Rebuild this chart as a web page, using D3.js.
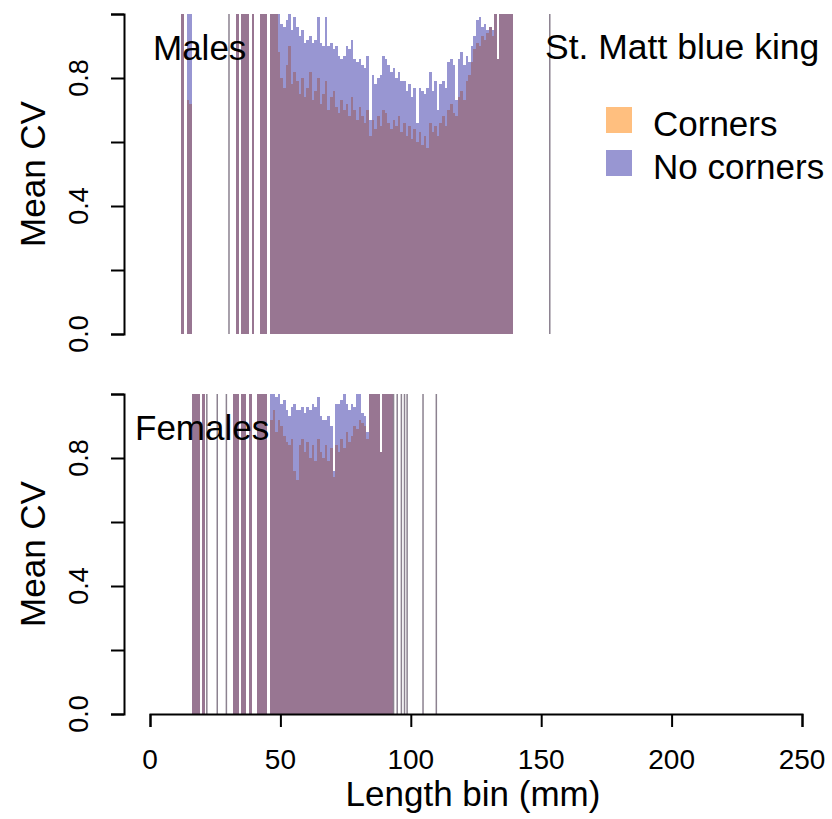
<!DOCTYPE html>
<html>
<head>
<meta charset="utf-8">
<script src="https://cdn.jsdelivr.net/npm/d3@7"></script>
<style>
  body { margin: 0; background: #fff; }
  svg { display: block; font-family: "Liberation Sans", Arial, sans-serif; }
</style>
</head>
<body>
<div id="chart"></div>
<script>
/* CONSTANTS AND GLOBALS */
const width = 832,
  height = 819,
  plotLeft = 150,
  plotRight = 802;

/* DATA */
// length bins (mm) and mean CV per bin; values above 1 are cut off by the y limit
const maleBins = [12, 14, 15, 33, 35, 36, 37, 39, 42, 43, 44,
  46, 47, 48, 49, 50, 51, 52, 53, 54, 55, 56, 57, 58, 59, 60, 61, 62, 63, 64, 65,
  66, 67, 68, 69, 70, 71, 72, 73, 74, 75, 76, 77, 78, 79, 80, 81, 82, 83, 84, 85,
  86, 87, 88, 89, 90, 91, 92, 93, 94, 95, 96, 97, 98, 99, 100, 101, 102, 103, 104, 105,
  106, 107, 108, 109, 110, 111, 112, 113, 114, 115, 116, 117, 118, 119, 120, 121, 122, 123, 124, 125,
  126, 127, 128, 129, 130, 131, 132, 133, 134, 135, 136, 137, 138];
const maleCorners = [1.2, 0.73, 0.72, 1.2, 1.1, 1.3, 1.2, 1.1, 1.2, 1.3, 1.1,
  1.0, 1.05, 1.02, 0.88, 0.80, 0.77, 0.84, 0.90, 0.78, 0.82, 0.79, 0.75, 0.80, 0.74, 0.77, 0.82, 0.73, 0.76, 0.80, 0.72,
  0.75, 0.79, 0.70, 0.74, 0.76, 0.71, 0.69, 0.73, 0.70, 0.72, 0.68, 0.74, 0.70, 0.67, 0.71, 0.68, 0.66, 0.70, 0.62, 0.67,
  0.64, 0.68, 0.65, 0.70, 0.69, 0.66, 0.64, 0.67, 0.65, 0.68, 0.63, 0.66, 0.62, 0.65, 0.61, 0.64, 0.60, 0.63, 0.59, 0.62,
  0.58, 0.66, 0.63, 0.65, 0.62, 0.66, 0.68, 0.65, 0.70, 0.72, 0.69, 0.68, 0.74, 0.76, 0.73, 0.79, 0.81, 0.85, 0.89, 0.91,
  0.90, 0.93, 0.92, 0.94, 0.96, 0.93, 1.05, 0.86, 1.1, 1.2, 1.1, 1.3, 1.2];
const maleNoCorners = [1.3, 1.2, 1.3, 1.3, 1.2, 1.4, 1.3, 1.2, 1.3, 1.4, 1.2,
  1.05, 1.1, 1.02, 1.05, 0.97, 0.96, 0.98, 1.0, 0.95, 0.99, 0.96, 0.93, 0.95, 0.91, 0.92, 0.93, 0.91, 0.92, 0.99, 0.91,
  0.90, 0.99, 0.90, 0.91, 0.89, 0.90, 0.87, 0.86, 0.87, 0.90, 0.89, 0.92, 0.86, 0.85, 0.86, 0.84, 0.83, 0.87, 0.67, 0.81,
  0.78, 0.80, 0.81, 0.87, 0.86, 0.84, 0.82, 0.83, 0.80, 0.82, 0.79, 0.79, 0.76, 0.78, 0.74, 0.77, 0.66, 0.77, 0.76, 0.75,
  0.77, 0.82, 0.76, 0.79, 0.70, 0.78, 0.79, 0.77, 0.85, 0.86, 0.84, 0.73, 0.86, 0.88, 0.84, 0.87, 0.85, 0.90, 0.93, 0.98,
  0.99, 0.96, 0.97, 0.95, 0.96, 0.95, 1.1, 0.86, 1.2, 1.3, 1.2, 1.4, 1.3];
const maleThin = [30, 153];

const femaleBins = [16, 17, 18, 20, 32, 33, 35, 36, 38, 41, 42, 43, 44,
  46, 47, 48, 49, 50, 51, 52, 53, 54, 55, 56, 57, 58, 59, 60, 61, 62, 63, 64, 65,
  66, 67, 68, 69, 70, 71, 72, 73, 74, 75, 76, 77, 78, 79, 80, 81, 82, 83, 84, 85,
  86, 87, 88, 89, 90, 91, 92];
const femaleCorners = [1.2, 1.3, 1.2, 1.1, 1.2, 1.3, 1.2, 1.1, 1.2, 1.3, 1.2, 1.1, 1.2,
  0.92, 0.95, 0.88, 0.92, 0.90, 0.87, 0.85, 0.84, 0.86, 0.76, 0.73, 0.84, 0.86, 0.82, 0.85, 0.80, 0.84, 0.79, 0.86, 0.82,
  0.80, 0.84, 0.79, 0.83, 0.74, 0.84, 0.82, 0.86, 0.83, 0.88, 0.85, 0.87, 0.90, 0.89, 0.92, 0.91, 0.90, 0.86, 1.05, 1.1,
  1.05, 1.2, 0.82, 1.1, 1.3, 1.1, 1.2];
const femaleNoCorners = [1.3, 1.4, 1.3, 1.2, 1.3, 1.4, 1.3, 1.2, 1.3, 1.4, 1.3, 1.2, 1.3,
  1.05, 1.02, 0.99, 1.0, 0.97, 0.98, 0.95, 0.93, 0.96, 0.97, 0.95, 0.95, 0.96, 0.94, 0.96, 0.95, 0.97, 0.96, 0.99, 0.93,
  0.92, 0.92, 0.93, 0.90, 0.76, 0.97, 0.97, 0.98, 1.0, 0.97, 0.95, 0.97, 0.96, 1.02, 1.05, 0.94, 0.93, 0.88, 1.05, 1.1,
  1.1, 1.2, 0.82, 1.1, 1.2, 1.1, 1.2];
const femaleThin = [21.5, 25.5, 29, 93.1, 94.5, 96.1, 97.3, 98.3, 104.4, 109.5];

const xTicks = [0, 50, 100, 150, 200, 250];
const yTicks = [0, 0.2, 0.4, 0.6, 0.8, 1.0];
const yLabels = [0, 0.4, 0.8];
const seriesNames = ["Corners", "No corners"];
const seriesColors = ["rgba(255,128,0,0.5)", "rgba(50,45,165,0.5)"];

const panels = [
  { name: "Males", bins: maleBins, corners: maleCorners, noCorners: maleNoCorners, thin: maleThin,
    top: 14, bottom: 334, labelX: 153 },
  { name: "Females", bins: femaleBins, corners: femaleCorners, noCorners: femaleNoCorners, thin: femaleThin,
    top: 394, bottom: 714, labelX: 135 }
];

/* SCALES */
const xScale = d3.scaleLinear().domain([0, 250]).range([plotLeft, plotRight]);
const binW = xScale(1) - xScale(0);

const svg = d3.select("#chart")
  .append("svg")
  .attr("width", width)
  .attr("height", height);

panels.forEach(p => {
  const yScale = d3.scaleLinear().domain([0, 1]).range([p.bottom, p.top]);
  const clipId = "clip-" + p.name;

  svg.append("clipPath").attr("id", clipId)
    .append("rect")
    .attr("x", 0).attr("y", p.top)
    .attr("width", width).attr("height", p.bottom - p.top);

  const g = svg.append("g").attr("clip-path", `url(#${clipId})`);

  // corners first, no corners drawn on top of it
  [p.corners, p.noCorners].forEach((vals, i) => {
    g.append("g")
      .attr("shape-rendering", "crispEdges")
      .selectAll("rect")
      .data(p.bins.map((b, j) => ({ bin: b, value: vals[j] })))
      .join("rect")
      .attr("x", d => xScale(d.bin))
      .attr("width", binW)
      .attr("y", d => yScale(d.value))
      .attr("height", d => yScale(0) - yScale(d.value))
      .attr("fill", seriesColors[i]);
  });

  // single bins that show as hairlines
  g.append("g")
    .selectAll("rect")
    .data(p.thin)
    .join("rect")
    .attr("x", d => xScale(d))
    .attr("width", 1.5)
    .attr("y", p.top)
    .attr("height", p.bottom - p.top)
    .attr("fill", "#8c8290");

  // + Y AXIS
  const yAxis = d3.axisLeft(yScale)
    .tickValues(yTicks)
    .tickSize(13)
    .tickFormat("");
  const yg = svg.append("g")
    .attr("transform", "translate(124,0)")
    .call(yAxis);
  yg.select(".domain").attr("stroke", "#000").attr("stroke-width", 2);
  yg.selectAll(".tick line").attr("stroke", "#000").attr("stroke-width", 2);

  svg.append("g")
    .selectAll("text")
    .data(yLabels)
    .join("text")
    .attr("transform", d => `translate(88,${yScale(d)}) rotate(-90)`)
    .attr("text-anchor", "middle")
    .attr("font-size", 27)
    .text(d => d3.format(".1f")(d));

  svg.append("text")
    .attr("transform", `translate(45,${(p.top + p.bottom) / 2}) rotate(-90)`)
    .attr("text-anchor", "middle")
    .attr("font-size", 35)
    .text("Mean CV");

  svg.append("text")
    .attr("x", p.labelX)
    .attr("y", p.top + 46)
    .attr("font-size", 35)
    .text(p.name);
});

/* X AXIS (bottom panel only) */
const xAxis = d3.axisBottom(xScale)
  .tickValues(xTicks)
  .tickSize(13)
  .tickFormat("");
const xg = svg.append("g")
  .attr("transform", "translate(0,714)")
  .call(xAxis);
xg.select(".domain").attr("stroke", "#000").attr("stroke-width", 2);
xg.selectAll(".tick line").attr("stroke", "#000").attr("stroke-width", 2);

svg.append("g")
  .selectAll("text")
  .data(xTicks)
  .join("text")
  .attr("x", d => xScale(d))
  .attr("y", 769)
  .attr("text-anchor", "middle")
  .attr("font-size", 28)
  .text(d => d);

svg.append("text")
  .attr("x", (plotLeft + plotRight) / 2 - 3)
  .attr("y", 806)
  .attr("text-anchor", "middle")
  .attr("font-size", 35)
  .text("Length bin (mm)");

/* TITLE AND LEGEND */
svg.append("text")
  .attr("x", 545)
  .attr("y", 59)
  .attr("font-size", 35.5)
  .text("St. Matt blue king");

const legend = svg.append("g")
  .selectAll("g")
  .data(seriesNames)
  .join("g")
  .attr("transform", (d, i) => `translate(606,${107 + i * 43})`);

legend.append("rect")
  .attr("width", 26)
  .attr("height", 26)
  .attr("fill", (d, i) => seriesColors[i]);

legend.append("text")
  .attr("x", 47)
  .attr("y", 29)
  .attr("font-size", 35)
  .text(d => d);
</script>
</body>
</html>
